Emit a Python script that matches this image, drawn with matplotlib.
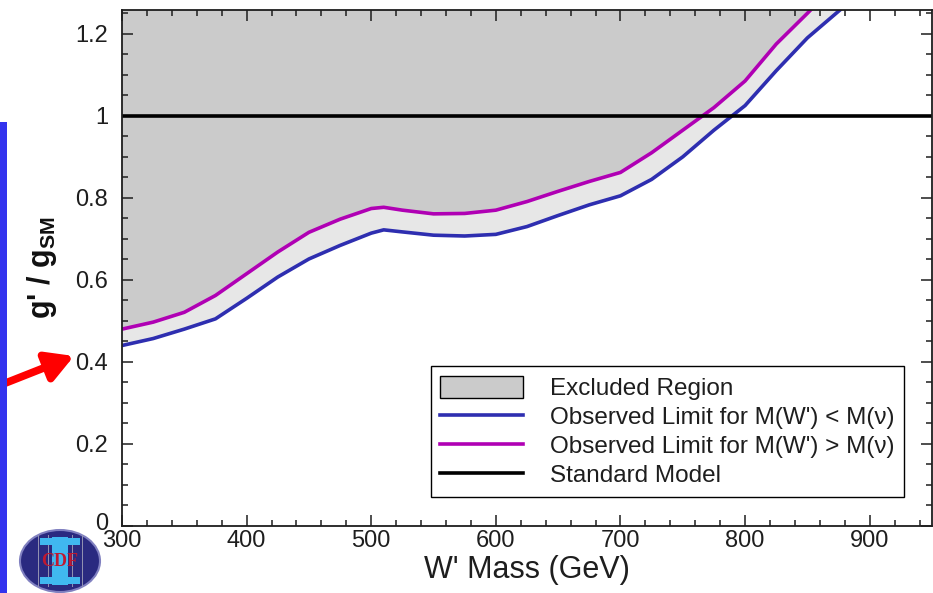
import numpy as np
import matplotlib
matplotlib.use('Agg')
import matplotlib.pyplot as plt
import matplotlib.transforms as mtransforms
from matplotlib.patches import Ellipse, Rectangle, Patch
from matplotlib.lines import Line2D
from matplotlib.ticker import MultipleLocator

plt.rcParams['font.family'] = ['Liberation Sans', 'DejaVu Sans']
plt.rcParams['mathtext.fontset'] = 'custom'
plt.rcParams['mathtext.rm'] = 'Liberation Sans'
plt.rcParams['mathtext.bf'] = 'Liberation Sans:bold'

# W' mass points (GeV) and coupling limits g'/g_SM
mass_heavy = [300, 325, 350, 375, 400, 425, 450, 475, 500, 510, 525, 550, 575,
              600, 625, 650, 675, 700, 725, 750, 775, 800, 825, 850, 858]
limit_heavy = [0.480, 0.497, 0.521, 0.562, 0.615, 0.668, 0.716, 0.748, 0.774,
               0.777, 0.770, 0.761, 0.762, 0.770, 0.791, 0.816, 0.840, 0.862,
               0.910, 0.965, 1.020, 1.085, 1.175, 1.250, 1.275]

mass_light = [300, 325, 350, 375, 400, 425, 450, 475, 500, 510, 525, 550, 575,
              600, 625, 650, 675, 700, 725, 750, 775, 800, 825, 850, 880]
limit_light = [0.440, 0.457, 0.480, 0.505, 0.555, 0.607, 0.651, 0.684, 0.714,
               0.722, 0.717, 0.709, 0.707, 0.711, 0.730, 0.757, 0.783, 0.805,
               0.845, 0.900, 0.965, 1.025, 1.110, 1.190, 1.268]

sm_value = 1.0

x_ticks = [300, 400, 500, 600, 700, 800, 900]
y_ticks = [0, 0.2, 0.4, 0.6, 0.8, 1, 1.2]
y_tick_labels = ['0', '0.2', '0.4', '0.6', '0.8', '1', '1.2']

BLUE = '#2e2eb0'
MAGENTA = '#b000b4'
DARK_GRAY = '#cbcbcb'
LIGHT_GRAY = '#e7e7e7'
INK = '#1e1e1e'

fig = plt.figure(figsize=(9.33, 5.93), dpi=100)
ax = fig.add_axes([122 / 933, 67 / 593, 810 / 933, 516 / 593])

top = 1.4
ax.fill_between(mass_light, limit_light, top, color=LIGHT_GRAY, lw=0)
ax.fill_between(mass_heavy, limit_heavy, top, color=DARK_GRAY, lw=0)
ax.plot(mass_light, limit_light, color=BLUE, lw=2.6, solid_capstyle='butt')
ax.plot(mass_heavy, limit_heavy, color=MAGENTA, lw=2.6, solid_capstyle='butt')
ax.axhline(sm_value, color='black', lw=2.6)

ax.set_xlim(300, 950)
ax.set_ylim(0, 1.258)
ax.set_xticks(x_ticks)
ax.set_yticks(y_ticks)
ax.set_yticklabels(y_tick_labels)
ax.xaxis.set_minor_locator(MultipleLocator(20))
ax.yaxis.set_minor_locator(MultipleLocator(0.05))
ax.tick_params(which='both', direction='in', top=True, right=True,
               width=1.1, color=INK)
ax.tick_params(which='major', length=8)
ax.tick_params(which='minor', length=4.5)
ax.tick_params(axis='y', labelsize=17, pad=10, colors=INK)
ax.tick_params(axis='x', labelsize=17, pad=3, colors=INK)
for sp in ax.spines.values():
    sp.set_linewidth(1.3)
    sp.set_color(INK)

# lift the "0" a little so it sits just above the "300"
zero_label = ax.get_yticklabels()[0]
zero_label.set_transform(zero_label.get_transform() +
                         mtransforms.ScaledTranslation(0, 4 / 100, fig.dpi_scale_trans))

ax.set_xlabel("W' Mass (GeV)", fontsize=22, labelpad=2, color=INK)
ax.set_ylabel(r"g' / g$_\mathbf{SM}$", fontsize=22, fontweight='bold',
              labelpad=12, color='#111111')

handles = [Patch(facecolor=DARK_GRAY, edgecolor='black', lw=1.0),
           Line2D([], [], color=BLUE, lw=2.6),
           Line2D([], [], color=MAGENTA, lw=2.6),
           Line2D([], [], color='black', lw=2.6)]
labels = ['Excluded Region',
          "Observed Limit for M(W') < M(ν)",
          "Observed Limit for M(W') > M(ν)",
          'Standard Model']
leg = ax.legend(handles, labels, loc='lower left', bbox_to_anchor=(0.381, 0.056),
                borderaxespad=0, fontsize=17.5, frameon=True, fancybox=False,
                edgecolor='black', framealpha=1, handlelength=3.4,
                handleheight=1.0, handletextpad=1.1, labelspacing=0.2,
                borderpad=0.4)
leg.get_frame().set_linewidth(1.0)
for t in leg.get_texts():
    t.set_color(INK)

# left-side slide decorations
fig.patches.append(Rectangle((0, 0), 7 / 933, 471 / 593, transform=fig.transFigure,
                             facecolor='#3333ee', edgecolor='none'))
ax.annotate('', xy=(74, 237), xycoords='figure pixels',
            xytext=(-2, 207), textcoords='figure pixels',
            arrowprops=dict(arrowstyle='-|>,head_length=1.6,head_width=0.9',
                            color='#ff0000', lw=5.5, shrinkA=0, shrinkB=0),
            annotation_clip=False)

# CDF logo
logo = Ellipse((60 / 933, 32 / 593), 80 / 933, 62 / 593, transform=fig.transFigure,
               facecolor='#2a2a80', edgecolor='#8080c0', lw=1.5)
fig.patches.append(logo)
for gx in (38, 48, 72, 82):
    fig.patches.append(Rectangle((gx / 933, 6 / 593), 1 / 933, 52 / 593,
                                 transform=fig.transFigure, facecolor='#9090b0',
                                 edgecolor='none'))
fig.patches.append(Rectangle((52 / 933, 8 / 593), 16 / 933, 48 / 593,
                             transform=fig.transFigure, facecolor='#40b8f0',
                             edgecolor='none'))
fig.patches.append(Rectangle((40 / 933, 48 / 593), 40 / 933, 7 / 593,
                             transform=fig.transFigure, facecolor='#40b8f0',
                             edgecolor='none'))
fig.patches.append(Rectangle((40 / 933, 9 / 593), 40 / 933, 7 / 593,
                             transform=fig.transFigure, facecolor='#40b8f0',
                             edgecolor='none'))
fig.text(60 / 933, 31 / 593, 'CDF', color='#c01830', fontsize=13, fontweight='bold',
         family='Liberation Serif', ha='center', va='center')

fig.savefig('out.png', dpi=100)
